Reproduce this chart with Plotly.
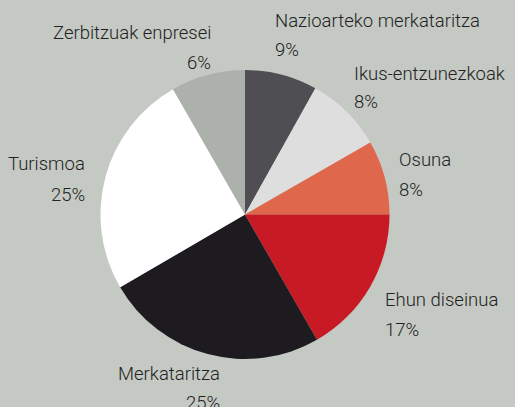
import plotly.graph_objects as go

# Data
categories = ["Nazioarteko merkataritza", "Ikus-entzunezkoak", "Osuna",
              "Ehun diseinua", "Merkataritza", "Turismoa", "Zerbitzuak enpresei"]
slice_values = [8.1, 8.6, 8.3, 16.7, 24.9, 25.1, 8.3]   # angular share
pct_labels = ["9%", "8%", "8%", "17%", "25%", "25%", "6%"]
colors = ["#4f4e53", "#dedede", "#df674b", "#c81a24", "#1e1b20", "#ffffff", "#adb1ab"]

W, H = 515, 407
BG = "#c5c9c3"
TXT = "#222222"
FONT = "Roboto, Liberation Sans, sans-serif"
FS = 18.5

cx, cy, r = 245, 214.5, 144.5

fig = go.Figure(go.Pie(
    labels=categories,
    values=slice_values,
    marker=dict(colors=colors, line=dict(width=0)),
    sort=False,
    direction="clockwise",
    rotation=0,
    textinfo="none",
    hoverinfo="label+percent",
    showlegend=False,
    domain=dict(x=[(cx - r) / W, (cx + r) / W],
                y=[(H - cy - r) / H, (H - cy + r) / H]),
))

# label layout: (x, name baseline y, pct baseline y, anchor)
label_pos = {
    "Nazioarteko merkataritza": (273.3, 27.7, 57.0, "left"),
    "Ikus-entzunezkoak": (351.7, 80.0, 108.5, "left"),
    "Osuna": (396.7, 166.7, 196.5, "left"),
    "Ehun diseinua": (382.7, 306.5, 336.0, "left"),
    "Merkataritza": (221.7, 380.0, 409.5, "right"),
    "Turismoa": (87.3, 170.7, 201.0, "right"),
    "Zerbitzuak enpresei": (212.7, 40.0, 69.3, "right"),
}

annotations = []
for name, pct in zip(categories, pct_labels):
    x, b1, b2, anch = label_pos[name]
    for text, base in ((name, b1), (pct, b2)):
        annotations.append(dict(
            text=text, x=x / W, y=1 - (base - 6.5) / H,
            xref="paper", yref="paper",
            xanchor=anch, yanchor="middle", showarrow=False,
            font=dict(family=FONT, size=FS, color=TXT, weight=300),
        ))

fig.update_layout(
    width=W, height=H,
    margin=dict(l=0, r=0, t=0, b=0),
    paper_bgcolor=BG, plot_bgcolor=BG,
    annotations=annotations,
)

fig.write_html("out.html", config={"displayModeBar": False})

# remove default page margin so the figure fills the window
with open("out.html", encoding="utf-8") as f:
    html = f.read()
html = html.replace("<body>", '<body style="margin:0;padding:0;overflow:hidden;">', 1)
with open("out.html", "w", encoding="utf-8") as f:
    f.write(html)
